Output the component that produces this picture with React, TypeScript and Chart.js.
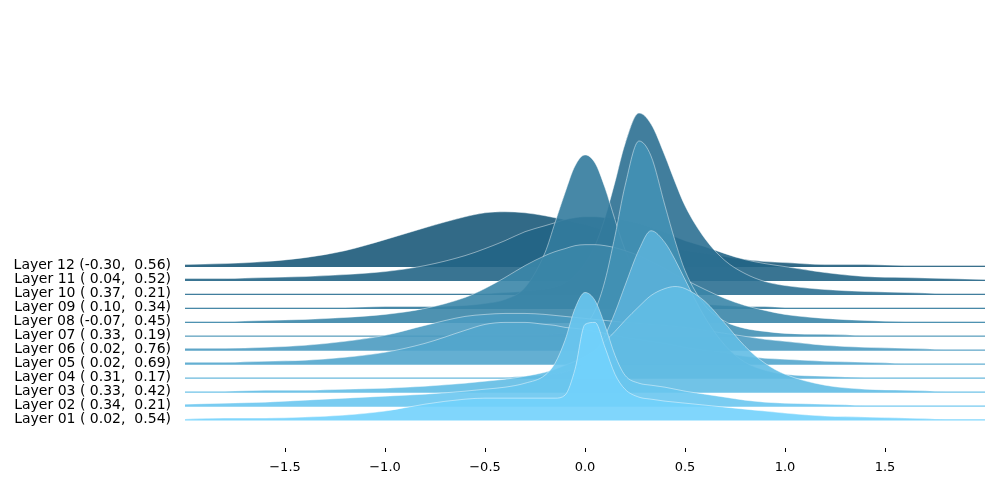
import React, { useEffect, useRef } from "react";
import { Chart, registerables } from "chart.js";
Chart.register(...registerables);

const xs = [-2.0,-1.8,-1.6,-1.4,-1.2,-1.0,-0.8,-0.6,-0.5,-0.4,-0.3,-0.2,-0.15,-0.1,-0.05,0,0.05,0.1,0.15,0.2,0.27,0.33,0.4,0.45,0.5,0.6,0.7,0.8,0.9,1.0,1.2,1.4,1.6,1.8,2.0];

const layerLabels = [
  "Layer 01 ( 0.02,  0.54)","Layer 02 ( 0.34,  0.21)","Layer 03 ( 0.33,  0.42)","Layer 04 ( 0.31,  0.17)",
  "Layer 05 ( 0.02,  0.69)","Layer 06 ( 0.02,  0.76)","Layer 07 ( 0.33,  0.19)","Layer 08 (-0.07,  0.45)",
  "Layer 09 ( 0.10,  0.34)","Layer 10 ( 0.37,  0.21)","Layer 11 ( 0.04,  0.52)","Layer 12 (-0.30,  0.56)",
];

const layer01 = [0,1,1,2,4,8,15,20,21,21,21,21,21,24,50,95,97,72,45,30,22,20,18,17,16,14,12,10,8,6,3,2,1,0,0];
const layer02 = [1,2,3,5,7,9,11,14,16,18,22,30,42,65,97,113,105,80,50,30,22,20,18,16,14,11,8,5,3,2,1,0,0,0,0];
const layer03 = [0,0,1,1,2,3,5,8,10,12,15,19,22,26,30,35,41,50,60,71,85,96,103,105,103,90,68,45,28,17,6,2,1,0,0];
const layer04 = [0,0,0,0,0,0,0,0,0,0,1,2,3,5,8,14,25,42,65,92,128,147,135,118,98,60,32,15,7,3,1,0,0,0,0];
const layer05 = [1,1,2,3,6,11,20,33,39,41,41,39,38,36,35,34,32,30,28,26,24,22,20,18,16,13,10,7,5,4,2,1,0,0,0];
const layer06 = [1,1,2,4,8,14,24,33,35,36,36,35,34,33,32,31,30,29,28,27,26,25,24,23,22,19,16,13,10,8,4,2,1,0,0];
const layer07 = [0,0,0,0,0,0,0,0,0,0,0,0,1,2,4,10,25,55,100,150,195,180,130,95,65,30,14,7,4,2,1,0,0,0,0];
const layer08 = [0,0,1,2,4,7,13,24,33,44,56,66,70,73,76,77,77,76,74,71,66,60,53,47,42,32,23,16,11,7,3,1,0,0,0];
const layer09 = [0,0,0,0,0,1,1,2,4,8,20,55,85,115,142,153,145,120,88,58,30,16,9,6,4,3,2,1,1,0,0,0,0,0,0];
const layer10 = [0,0,0,0,0,0,0,0,0,1,2,4,6,10,18,30,48,76,112,150,181,170,138,112,88,55,33,20,12,8,4,2,1,0,0];
const layer11 = [1,1,2,3,5,8,14,24,31,39,48,54,57,60,62,63,63,62,61,59,56,52,47,43,39,33,26,20,16,13,7,3,2,1,0];
const layer12 = [1,2,4,8,15,26,38,49,53,54,53,50,48,46,43,41,38,35,32,29,25,22,19,17,15,12,9,6,4,3,1,1,0,0,0];

const layers = [layer01,layer02,layer03,layer04,layer05,layer06,layer07,layer08,layer09,layer10,layer11,layer12];
const xTicks = [-1.5,-1,-0.5,0,0.5,1,1.5];
const spacing = 14;

function color(i: number) {
  const t = i / 11;
  const a = [114,210,252], b = [28,90,122];
  const c = a.map((v, k) => Math.round(v + (b[k] - v) * t));
  return `rgba(${c[0]},${c[1]},${c[2]},0.9)`;
}

export default function App() {
  const ref = useRef<HTMLCanvasElement>(null);
  useEffect(() => {
    const datasets = layers.map((arr, i) => {
      const base = i * spacing;
      return {
        label: layerLabels[i],
        data: xs.map((x, k) => ({ x, y: base + arr[k] })),
        fill: { target: { value: base - 1.5 } },
        backgroundColor: color(i),
        borderColor: "rgba(255,255,255,0.75)",
        borderWidth: 0.6,
        pointRadius: 0,
        cubicInterpolationMode: "monotone" as const,
      };
    });
    const chart = new Chart(ref.current!, {
      type: "line",
      data: { datasets },
      options: {
        animation: false,
        responsive: false,
        layout: { padding: { top: 10, right: 15, left: 0, bottom: 0 } },
        plugins: { legend: { display: false }, tooltip: { enabled: false } },
        scales: {
          x: {
            type: "linear", min: -2, max: 2,
            border: { display: false },
            grid: { drawOnChartArea: false, drawTicks: true, tickLength: 4, color: "#000" },
            afterBuildTicks: (s: any) => { s.ticks = xTicks.map((v) => ({ value: v })); },
            afterFit: (s: any) => { s.height = 52; },
            ticks: {
              color: "#000", font: { family: "DejaVu Sans", size: 13 }, padding: 8,
              callback: (v: any) => { const n = Number(v); return (n < 0 ? "\u2212" : "") + Math.abs(n).toFixed(1); },
            },
          },
          y: {
            type: "linear", min: -29, max: 398,
            border: { display: false },
            grid: { display: false, drawTicks: false },
            afterBuildTicks: (s: any) => { s.ticks = layers.map((_, i) => ({ value: i * spacing })); },
            afterFit: (s: any) => { s.width = 185; },
            ticks: {
              color: "#000", font: { family: "DejaVu Sans", size: 14 }, padding: 14,
              autoSkip: false,
              callback: (v: any) => layerLabels[Math.round(Number(v) / spacing)] ?? "",
            },
          },
        },
      },
    });
    return () => chart.destroy();
  }, []);
  return (
    <div style={{ position: "absolute", left: 0, top: 0, width: 1000, height: 500, background: "#fff" }}>
      <canvas ref={ref} width={1000} height={500} style={{ width: 1000, height: 500 }} />
    </div>
  );
}
